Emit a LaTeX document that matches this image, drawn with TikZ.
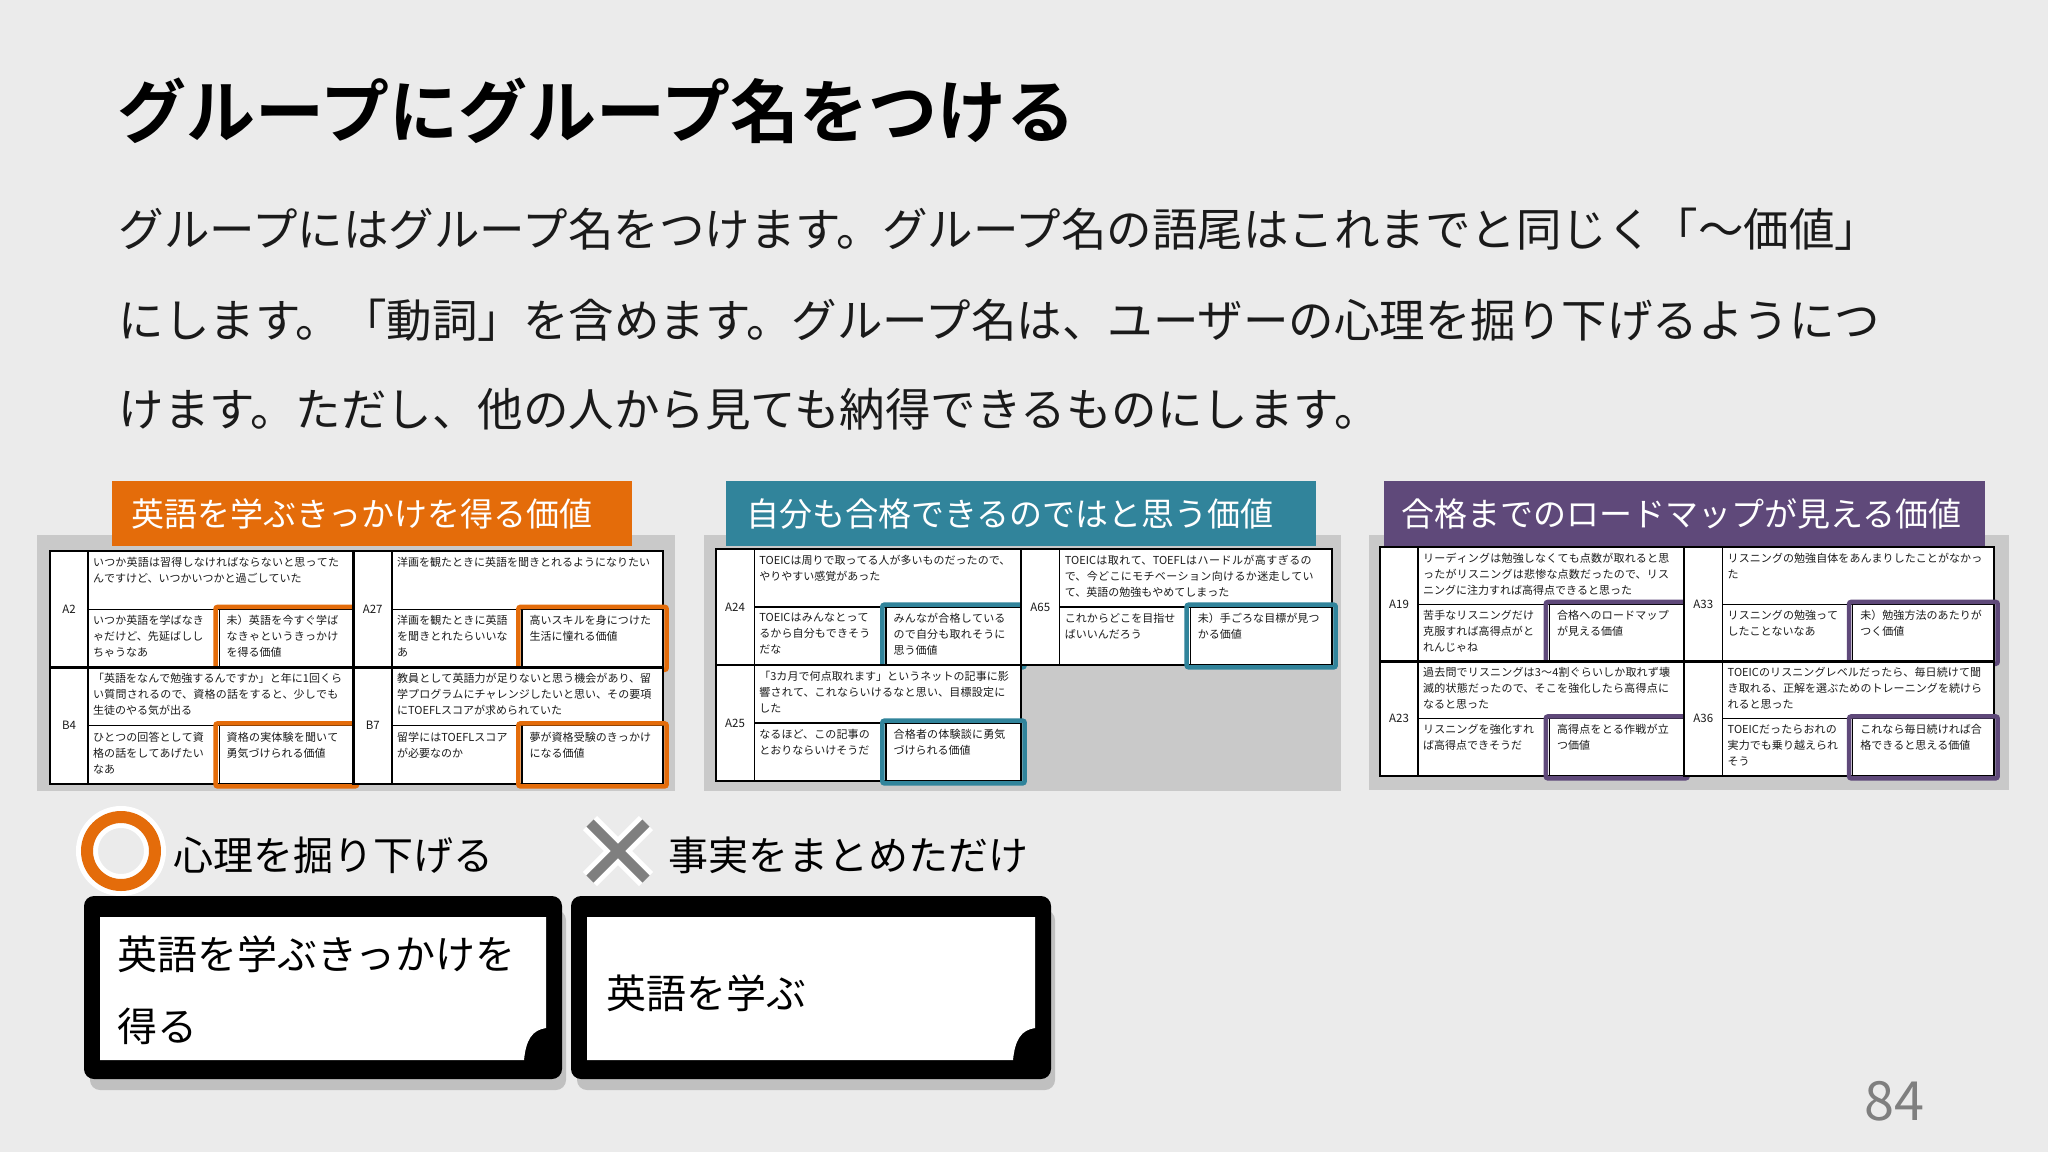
\documentclass[tikz,border=0pt]{standalone}
\usepackage{fontspec}
\setmainfont{Noto Sans CJK JP}[BoldFont={Noto Sans CJK JP Bold}]
\XeTeXlinebreaklocale "ja"
\XeTeXlinebreakskip=0pt plus 1pt
\definecolor{bg}{HTML}{EBEBEB}
\definecolor{panel}{HTML}{C9C9C9}
\definecolor{cor}{HTML}{E46C0A}
\definecolor{cte}{HTML}{31849B}
\definecolor{cpu}{HTML}{5F497A}
\definecolor{txt}{HTML}{1A1A1A}
\definecolor{xg}{HTML}{7F7F7F}
\tikzset{
 lbl/.style={anchor=west,text=white,font=\fontsize{33}{40}\selectfont},
 body/.style={anchor=west,text=txt,font=\fontsize{45.5}{52}\selectfont},
 ct/.style={anchor=north west,align=left,inner sep=0pt,font=\fontsize{11}{16}\selectfont,text=txt},
 big/.style={anchor=west,text=black,font=\fontsize{40}{48}\selectfont}
}
\newcommand\setT[5]{\def\tx{#1}\def\ty{#2}\def\tw{#3}\def\th{#4}\def\hc{#5}}
\newcommand\setQ[6]{\def\qa{#1}\def\ql{#2}\def\qs{#3}\def\qb{#4}\def\qya{#5}\def\qyb{#6}}
\newcommand\PP[2]{({\tx+(#1)*\tw},{\ty+(#2)*\th})}
\newcommand\qd[4]{%
 \pgfmathsetmacro\qym{(\qya+\qyb)/2}%
 \fill[white] \PP{\qa}{\qya} rectangle \PP{\qb}{\qyb};
 \draw[line width=1.2pt] \PP{\ql}{\qya} -- \PP{\ql}{\qyb};
 \draw[line width=1.2pt] \PP{\ql}{\qym} -- \PP{\qb}{\qym};
 \draw[line width=1.2pt] \PP{\qs}{\qym} -- \PP{\qs}{\qyb};
 \draw[line width=2.5pt] \PP{\qa}{\qya} rectangle \PP{\qb}{\qyb};
 \node[font=\fontsize{11.5}{14}\selectfont,text=txt] at \PP{(\qa+\ql)/2}{\qym} {#1};
 \node[ct,text width={(\qb-\ql-0.025)*\tw}] at \PP{\ql+0.008}{\qya+0.025} {#2};
 \node[ct,text width={(\qs-\ql-0.03)*\tw}] at \PP{\ql+0.008}{\qym+0.025} {#3};
 \node[ct,text width={(\qb-\qs-0.03)*\tw}] at \PP{\qs+0.012}{\qym+0.025} {#4};
 \draw[\hc,line width=4.5pt,rounded corners=2pt] \PP{\qs-0.006}{\qym-0.01} rectangle \PP{\qb+0.006}{\qyb+0.01};
}
\newcommand\QTL{\setQ{0}{0.062}{0.276}{0.495}{0}{0.5}}
\newcommand\QTR{\setQ{0.495}{0.558}{0.770}{1}{0}{0.5}}
\newcommand\QBL{\setQ{0}{0.062}{0.276}{0.495}{0.5}{1}}
\newcommand\QBR{\setQ{0.495}{0.558}{0.770}{1}{0.5}{1}}
\begin{document}
\begin{tikzpicture}[x=1pt,y=-1pt]
\fill[bg] (0,0) rectangle (2048,1152);
\useasboundingbox (0,0) rectangle (2048,1152);
\node[anchor=west,text=black,font=\bfseries\fontsize{69}{76}\selectfont] (title) at (114,111) {グループにグループ名をつける};
\node[body] (l1) at (115,229) {グループにはグループ名をつけます。グループ名の語尾はこれまでと同じく「～価値」};
\node[body] (l2) at (115,320) {にします。「動詞」を含めます。グループ名は、ユーザーの心理を掘り下げるようにつ};
\node[body] (l3) at (115,409) {けます。ただし、他の人から見ても納得できるものにします。};
\fill[panel] (37,535) rectangle (675,791);
\fill[panel] (704,535) rectangle (1341,791);
\fill[panel] (1369,535) rectangle (2009,790);
\fill[cor] (112,481) rectangle (632,546);
\node[lbl] (g1) at (128,514) {英語を学ぶきっかけを得る価値};
\fill[cte] (726,481) rectangle (1316,546);
\node[lbl] (g2) at (743,514) {自分も合格できるのではと思う価値};
\fill[cpu] (1384,481) rectangle (1985,546);
\node[lbl] (g3) at (1398,514) {合格までのロードマップが見える価値};
\setT{50}{551}{613}{233}{cor}
\QTL\qd{A2}{いつか英語は習得しなければならないと思ってたんですけど、いつかいつかと過ごしていた}{いつか英語を学ばなきゃだけど、先延ばししちゃうなあ}{未）英語を今すぐ学ばなきゃというきっかけを得る価値}
\QTR\qd{A27}{洋画を観たときに英語を聞きとれるようになりたい}{洋画を観たときに英語を聞きとれたらいいなあ}{高いスキルを身につけた生活に憧れる価値}
\QBL\qd{B4}{「英語をなんで勉強するんですか」と年に1回くらい質問されるので、資格の話をすると、少しでも生徒のやる気が出る}{ひとつの回答として資格の話をしてあげたいなあ}{資格の実体験を聞いて勇気づけられる価値}
\QBR\qd{B7}{教員として英語力が足りないと思う機会があり、留学プログラムにチャレンジしたいと思い、その要項にTOEFLスコアが求められていた}{留学にはTOEFLスコアが必要なのか}{夢が資格受験のきっかけになる価値}
\setT{716}{549}{616}{232}{cte}
\QTL\qd{A24}{TOEICは周りで取ってる人が多いものだったので、やりやすい感覚があった}{TOEICはみんなとってるから自分もできそうだな}{みんなが合格しているので自分も取れそうに思う価値}
\QTR\qd{A65}{TOEICは取れて、TOEFLはハードルが高すぎるので、今どこにモチベーション向けるか迷走していて、英語の勉強もやめてしまった}{これからどこを目指せばいいんだろう}{未）手ごろな目標が見つかる価値}
\QBL\qd{A25}{「3カ月で何点取れます」というネットの記事に影響されて、これならいけるなと思い、目標設定にした}{なるほど、この記事のとおりならいけそうだ}{合格者の体験談に勇気づけられる価値}
\setT{1380}{547}{614}{229}{cpu}
\QTL\qd{A19}{リーディングは勉強しなくても点数が取れると思ったがリスニングは悲惨な点数だったので、リスニングに注力すれば高得点できると思った}{苦手なリスニングだけ克服すれば高得点がとれんじゃね}{合格へのロードマップが見える価値}
\QTR\qd{A33}{リスニングの勉強自体をあんまりしたことがなかった}{リスニングの勉強ってしたことないなあ}{未）勉強方法のあたりがつく価値}
\QBL\qd{A23}{過去問でリスニングは3～4割ぐらいしか取れず壊滅的状態だったので、そこを強化したら高得点になると思った}{リスニングを強化すれば高得点できそうだ}{高得点をとる作戦が立つ価値}
\QBR\qd{A36}{TOEICのリスニングレベルだったら、毎日続けて聞き取れる、正解を選ぶためのトレーニングを続けられると思った}{TOEICだったらおれの実力でも乗り越えられそう}{これなら毎日続ければ合格できると思える価値}
\draw[white,line width=22pt] (121,851) circle (34);
\draw[cor,line width=12pt] (121,851) circle (34);
\node[big] (m1) at (170,855) {心理を掘り下げる};
\foreach \c/\w in {white/20pt,xg/10pt}{
 \draw[\c,line width=\w] (590,823) -- (646,879);
 \draw[\c,line width=\w] (646,823) -- (590,879);}
\node[big] (m2) at (665,855) {事実をまとめただけ};
\foreach \xa/\xb in {84/562,571/1051}{
 \fill[black,opacity=0.18,rounded corners=10pt] (\xa+6,910) rectangle (\xb+4,1090);
 \fill[black,rounded corners=10pt] (\xa,896) rectangle (\xb,1079);
 \fill[white] (\xa+16,917) -- (\xb-16,917) -- (\xb-16,1028) .. controls (\xb-30,1030) and (\xb-36,1040) .. (\xb-38,1060) -- (\xa+16,1060) -- cycle;
}
\node[big,anchor=north west,align=left,font=\fontsize{40}{72}\selectfont] (s1) at (114,932) {英語を学ぶきっかけを\\得る};
\node[big] (s2) at (603,993) {英語を学ぶ};
\node[anchor=east,text=xg,font=\fontsize{54}{60}\selectfont] (pg) at (1928,1101) {84};
\end{tikzpicture}
\end{document}
